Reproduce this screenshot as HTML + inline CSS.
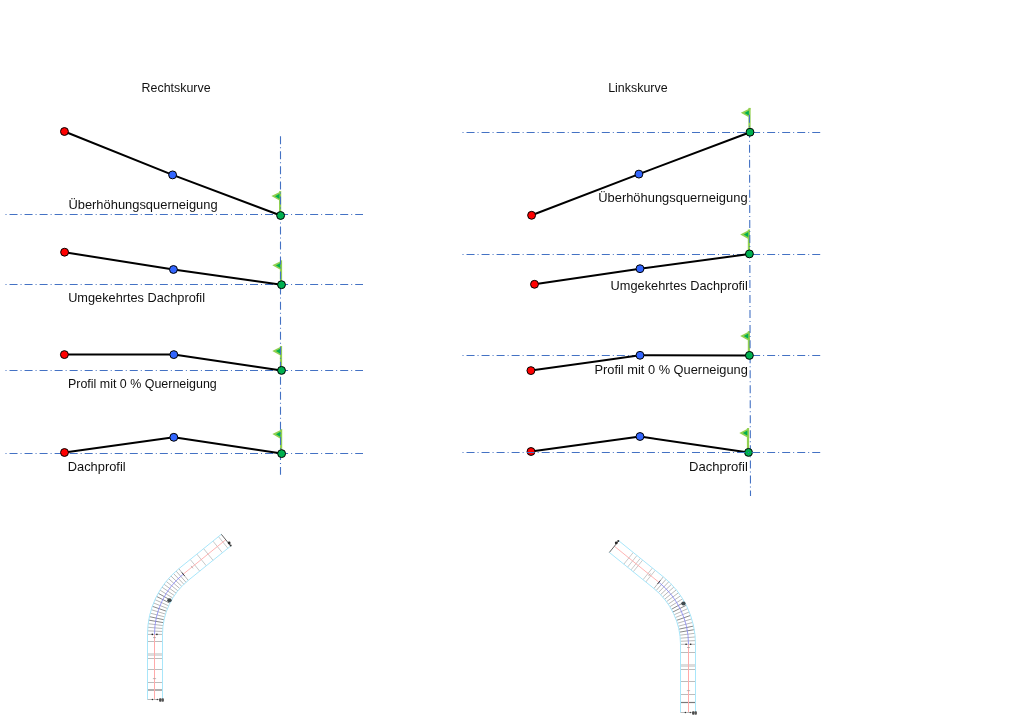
<!DOCTYPE html>
<html><head><meta charset="utf-8"><style>
html,body{margin:0;padding:0;background:#fff;}
svg{display:block;}
text{will-change:transform;font-family:"Liberation Sans",sans-serif;font-size:12.8px;fill:#111;}
.dd{stroke:#4472c4;stroke-width:1.1;stroke-dasharray:8 3 1 3.03;fill:none;}
</style></head><body>
<svg width="1024" height="720" viewBox="0 0 1024 720">
<text x="141.6" y="91.9" textLength="69.00" lengthAdjust="spacingAndGlyphs">Rechtskurve</text>
<text x="68.4" y="208.6" textLength="149.20" lengthAdjust="spacingAndGlyphs">Überhöhungsquerneigung</text>
<text x="68.15" y="302.2" textLength="136.85" lengthAdjust="spacingAndGlyphs">Umgekehrtes Dachprofil</text>
<text x="68.0" y="387.9" textLength="148.75" lengthAdjust="spacingAndGlyphs">Profil mit 0 % Querneigung</text>
<text x="67.8" y="470.9" textLength="57.80" lengthAdjust="spacingAndGlyphs">Dachprofil</text>
<rect x="279.00" y="191.20" width="2.2" height="20.50" fill="#92d050"/><path d="M281.20,191.20 L279.00,200.30 L271.40,196.00 Z" fill="#92d050"/><path d="M279.50,193.70 L279.50,198.90 L275.00,196.20 Z" fill="#00b050"/>
<rect x="279.90" y="260.40" width="2.2" height="20.50" fill="#92d050"/><path d="M282.10,260.40 L279.90,269.50 L272.30,265.20 Z" fill="#92d050"/><path d="M280.40,262.90 L280.40,268.10 L275.90,265.40 Z" fill="#00b050"/>
<rect x="279.90" y="346.10" width="2.2" height="20.50" fill="#92d050"/><path d="M282.10,346.10 L279.90,355.20 L272.30,350.90 Z" fill="#92d050"/><path d="M280.40,348.60 L280.40,353.80 L275.90,351.10 Z" fill="#00b050"/>
<rect x="280.00" y="429.30" width="2.2" height="20.50" fill="#92d050"/><path d="M282.20,429.30 L280.00,438.40 L272.40,434.10 Z" fill="#92d050"/><path d="M280.50,431.80 L280.50,437.00 L276.00,434.30 Z" fill="#00b050"/>
<line x1="280.5" y1="136.3" x2="280.5" y2="474.7" class="dd" stroke-dashoffset="0"/>
<line x1="5.5" y1="214.5" x2="363" y2="214.5" class="dd" stroke-dashoffset="11"/>
<polyline points="64.45,131.5 172.6,174.9 280.6,215.5" fill="none" stroke="#000" stroke-width="2" stroke-linejoin="round"/>
<circle cx="64.45" cy="131.5" r="3.95" fill="#ff0000" stroke="#000" stroke-width="1"/>
<circle cx="172.6" cy="174.9" r="3.95" fill="#3366ff" stroke="#000" stroke-width="1"/>
<circle cx="280.6" cy="215.5" r="3.95" fill="#00b050" stroke="#000" stroke-width="1"/>
<line x1="5.5" y1="284.5" x2="363" y2="284.5" class="dd" stroke-dashoffset="11"/>
<polyline points="64.6,252.2 173.45,269.5 281.5,284.7" fill="none" stroke="#000" stroke-width="2" stroke-linejoin="round"/>
<circle cx="64.6" cy="252.2" r="3.95" fill="#ff0000" stroke="#000" stroke-width="1"/>
<circle cx="173.45" cy="269.5" r="3.95" fill="#3366ff" stroke="#000" stroke-width="1"/>
<circle cx="281.5" cy="284.7" r="3.95" fill="#00b050" stroke="#000" stroke-width="1"/>
<line x1="5.5" y1="370.5" x2="363" y2="370.5" class="dd" stroke-dashoffset="11"/>
<polyline points="64.4,354.6 173.8,354.6 281.5,370.4" fill="none" stroke="#000" stroke-width="2" stroke-linejoin="round"/>
<circle cx="64.4" cy="354.6" r="3.95" fill="#ff0000" stroke="#000" stroke-width="1"/>
<circle cx="173.8" cy="354.6" r="3.95" fill="#3366ff" stroke="#000" stroke-width="1"/>
<circle cx="281.5" cy="370.4" r="3.95" fill="#00b050" stroke="#000" stroke-width="1"/>
<line x1="5.5" y1="453.5" x2="363" y2="453.5" class="dd" stroke-dashoffset="11"/>
<polyline points="64.5,452.5 173.8,437.3 281.6,453.6" fill="none" stroke="#000" stroke-width="2" stroke-linejoin="round"/>
<circle cx="64.5" cy="452.5" r="3.95" fill="#ff0000" stroke="#000" stroke-width="1"/>
<circle cx="173.8" cy="437.3" r="3.95" fill="#3366ff" stroke="#000" stroke-width="1"/>
<circle cx="281.6" cy="453.6" r="3.95" fill="#00b050" stroke="#000" stroke-width="1"/>
<text x="608.2" y="91.9" textLength="59.40" lengthAdjust="spacingAndGlyphs">Linkskurve</text>
<text x="598.2" y="201.9" textLength="149.40" lengthAdjust="spacingAndGlyphs">Überhöhungsquerneigung</text>
<text x="610.6" y="290" textLength="137.20" lengthAdjust="spacingAndGlyphs">Umgekehrtes Dachprofil</text>
<text x="594.5" y="374.1" textLength="153.30" lengthAdjust="spacingAndGlyphs">Profil mit 0 % Querneigung</text>
<text x="689.0" y="470.7" textLength="58.80" lengthAdjust="spacingAndGlyphs">Dachprofil</text>
<rect x="748.40" y="107.90" width="2.2" height="20.50" fill="#92d050"/><path d="M750.60,107.90 L748.40,117.00 L740.80,112.70 Z" fill="#92d050"/><path d="M748.90,110.40 L748.90,115.60 L744.40,112.90 Z" fill="#00b050"/>
<rect x="747.80" y="229.60" width="2.2" height="20.50" fill="#92d050"/><path d="M750.00,229.60 L747.80,238.70 L740.20,234.40 Z" fill="#92d050"/><path d="M748.30,232.10 L748.30,237.30 L743.80,234.60 Z" fill="#00b050"/>
<rect x="747.80" y="331.10" width="2.2" height="20.50" fill="#92d050"/><path d="M750.00,331.10 L747.80,340.20 L740.20,335.90 Z" fill="#92d050"/><path d="M748.30,333.60 L748.30,338.80 L743.80,336.10 Z" fill="#00b050"/>
<rect x="746.90" y="428.10" width="2.2" height="20.50" fill="#92d050"/><path d="M749.10,428.10 L746.90,437.20 L739.30,432.90 Z" fill="#92d050"/><path d="M747.40,430.60 L747.40,435.80 L742.90,433.10 Z" fill="#00b050"/>
<line x1="749.45" y1="114.7" x2="750.5" y2="496.0" class="dd" stroke-dashoffset="0"/>
<line x1="462.5" y1="132.5" x2="820.2" y2="132.5" class="dd" stroke-dashoffset="11"/>
<polyline points="531.6,215.3 638.9,174.1 750,132.2" fill="none" stroke="#000" stroke-width="2" stroke-linejoin="round"/>
<circle cx="531.6" cy="215.3" r="3.95" fill="#ff0000" stroke="#000" stroke-width="1"/>
<circle cx="638.9" cy="174.1" r="3.95" fill="#3366ff" stroke="#000" stroke-width="1"/>
<circle cx="750" cy="132.2" r="3.95" fill="#00b050" stroke="#000" stroke-width="1"/>
<line x1="462.5" y1="254.5" x2="820.2" y2="254.5" class="dd" stroke-dashoffset="11"/>
<polyline points="534.5,284.3 640,268.7 749.4,253.9" fill="none" stroke="#000" stroke-width="2" stroke-linejoin="round"/>
<circle cx="534.5" cy="284.3" r="3.95" fill="#ff0000" stroke="#000" stroke-width="1"/>
<circle cx="640" cy="268.7" r="3.95" fill="#3366ff" stroke="#000" stroke-width="1"/>
<circle cx="749.4" cy="253.9" r="3.95" fill="#00b050" stroke="#000" stroke-width="1"/>
<line x1="462.5" y1="355.5" x2="820.2" y2="355.5" class="dd" stroke-dashoffset="11"/>
<polyline points="530.9,370.6 640,355.3 749.4,355.4" fill="none" stroke="#000" stroke-width="2" stroke-linejoin="round"/>
<circle cx="530.9" cy="370.6" r="3.95" fill="#ff0000" stroke="#000" stroke-width="1"/>
<circle cx="640" cy="355.3" r="3.95" fill="#3366ff" stroke="#000" stroke-width="1"/>
<circle cx="749.4" cy="355.4" r="3.95" fill="#00b050" stroke="#000" stroke-width="1"/>
<polyline points="531,451.5 640,436.5 748.5,452.4" fill="none" stroke="#000" stroke-width="2" stroke-linejoin="round"/>
<circle cx="531" cy="451.5" r="3.95" fill="#ff0000" stroke="#000" stroke-width="1"/>
<circle cx="640" cy="436.5" r="3.95" fill="#3366ff" stroke="#000" stroke-width="1"/>
<circle cx="748.5" cy="452.4" r="3.95" fill="#00b050" stroke="#000" stroke-width="1"/>
<line x1="462.5" y1="452.5" x2="820.2" y2="452.5" class="dd" stroke-dashoffset="11"/>
<g><rect x="147.5" y="653" width="15.0" height="3" fill="#dcdcdc"/>
<line x1="147.5" y1="690" x2="162.5" y2="690" stroke="#7a7a7a" stroke-width="1.2"/>
<line x1="147.5" y1="682.5" x2="162.5" y2="682.5" stroke="#b4b4b4" stroke-width="0.9"/>
<line x1="147.5" y1="669.5" x2="162.5" y2="669.5" stroke="#b4b4b4" stroke-width="0.9"/>
<line x1="147.5" y1="658.5" x2="162.5" y2="658.5" stroke="#b4b4b4" stroke-width="0.9"/>
<line x1="147.5" y1="641.5" x2="162.5" y2="641.5" stroke="#b4b4b4" stroke-width="0.9"/>
<line x1="147.50" y1="634.40" x2="162.50" y2="634.40" stroke="#b0b0b0" stroke-width="0.9"/>
<line x1="147.58" y1="630.82" x2="162.56" y2="631.46" stroke="#b0b0b0" stroke-width="0.9"/>
<line x1="147.80" y1="627.25" x2="162.75" y2="628.52" stroke="#b0b0b0" stroke-width="0.9"/>
<line x1="148.18" y1="623.68" x2="163.06" y2="625.59" stroke="#b0b0b0" stroke-width="0.9"/>
<line x1="148.71" y1="620.14" x2="163.50" y2="622.67" stroke="#7a7a7a" stroke-width="0.9"/>
<line x1="149.39" y1="616.63" x2="164.05" y2="619.78" stroke="#7a7a7a" stroke-width="0.9"/>
<line x1="150.22" y1="613.14" x2="164.74" y2="616.91" stroke="#b0b0b0" stroke-width="0.9"/>
<line x1="151.19" y1="609.69" x2="165.54" y2="614.08" stroke="#b0b0b0" stroke-width="0.9"/>
<line x1="152.31" y1="606.29" x2="166.46" y2="611.28" stroke="#7a7a7a" stroke-width="0.9"/>
<line x1="153.57" y1="602.94" x2="167.50" y2="608.53" stroke="#b0b0b0" stroke-width="0.9"/>
<line x1="154.98" y1="599.65" x2="168.65" y2="605.82" stroke="#b0b0b0" stroke-width="0.9"/>
<line x1="156.52" y1="596.41" x2="169.92" y2="603.16" stroke="#7a7a7a" stroke-width="0.9"/>
<line x1="158.20" y1="593.25" x2="171.30" y2="600.55" stroke="#7a7a7a" stroke-width="0.9"/>
<line x1="160.01" y1="590.16" x2="172.79" y2="598.01" stroke="#b0b0b0" stroke-width="0.9"/>
<line x1="161.95" y1="587.15" x2="174.38" y2="595.54" stroke="#b0b0b0" stroke-width="0.9"/>
<line x1="164.01" y1="584.22" x2="176.08" y2="593.13" stroke="#b0b0b0" stroke-width="0.9"/>
<line x1="166.20" y1="581.39" x2="177.88" y2="590.80" stroke="#b0b0b0" stroke-width="0.9"/>
<line x1="168.50" y1="578.65" x2="179.78" y2="588.54" stroke="#b0b0b0" stroke-width="0.9"/>
<line x1="170.92" y1="576.01" x2="181.77" y2="586.37" stroke="#b0b0b0" stroke-width="0.9"/>
<line x1="173.45" y1="573.47" x2="183.85" y2="584.29" stroke="#b0b0b0" stroke-width="0.9"/>
<line x1="176.09" y1="571.04" x2="186.01" y2="582.29" stroke="#b0b0b0" stroke-width="0.9"/>
<line x1="178.82" y1="568.73" x2="188.26" y2="580.39" stroke="#b0b0b0" stroke-width="0.9"/>
<line x1="190.25" y1="559.48" x2="199.69" y2="571.14" stroke="#b0b0b0" stroke-width="0.7"/>
<line x1="196.85" y1="554.13" x2="206.29" y2="565.79" stroke="#b0b0b0" stroke-width="0.7"/>
<line x1="203.61" y1="548.66" x2="213.05" y2="560.31" stroke="#b0b0b0" stroke-width="0.7"/>
<line x1="212.94" y1="541.10" x2="222.38" y2="552.76" stroke="#b0b0b0" stroke-width="0.7"/>
<line x1="218.46" y1="536.64" x2="227.90" y2="548.29" stroke="#b0b0b0" stroke-width="0.7"/>
<line x1="154.5" y1="699.5" x2="154.5" y2="634.4" stroke="#ffaaaa" stroke-width="1"/>
<path d="M154.5,634.4 A77.5,77.5 0 0 1 183.23,574.17" fill="none" stroke="#8585f5" stroke-width="0.8"/>
<line x1="183.23" y1="574.17" x2="225.74" y2="539.75" stroke="#ffaaaa" stroke-width="0.9"/>
<path d="M147.50,699.50 L147.50,634.40 A84.50,84.50 0 0 1 178.82,568.73 L221.33,534.31" fill="none" stroke="#a8e6fa" stroke-width="1"/>
<path d="M162.50,699.50 L162.50,634.40 A69.50,69.50 0 0 1 188.26,580.39 L230.77,545.96" fill="none" stroke="#a8e6fa" stroke-width="1"/>
<line x1="147.5" y1="699.5" x2="162.5" y2="699.5" stroke="#b0b0b0" stroke-width="0.9"/>
<line x1="221.33" y1="534.31" x2="230.77" y2="545.96" stroke="#505050" stroke-width="0.9"/>
<circle cx="152.30" cy="634.40" r="0.8" fill="#222"/>
<circle cx="156.90" cy="634.40" r="0.8" fill="#222"/>
<line x1="153.0" y1="637.6" x2="156.0" y2="637.6" stroke="#999" stroke-width="0.7"/>
<line x1="181.84" y1="572.46" x2="184.61" y2="575.88" stroke="#333" stroke-width="0.9"/>
<ellipse cx="169.46" cy="600.36" rx="2.2" ry="2" fill="#404a4e"/>
<circle cx="229.16" cy="543.02" r="1.4" fill="#2a2a2a"/>
<circle cx="230.69" cy="545.39" r="1.0" fill="#333"/>
<line x1="152.90" y1="678.6" x2="156.10" y2="678.6" stroke="#a0a0a0" stroke-width="0.7"/>
<line x1="191.00" y1="565.82" x2="193.02" y2="568.30" stroke="#a0a0a0" stroke-width="0.7"/>
<circle cx="152.40" cy="699.50" r="0.75" fill="#333"/>
<circle cx="157.30" cy="699.50" r="0.75" fill="#444"/>
<rect x="159.10" y="698.20" width="2.4" height="3.6" rx="0.8" fill="#4a4a4a"/>
<rect x="161.60" y="698.20" width="2.3" height="3.6" rx="0.8" fill="#555"/>
<rect x="680.5" y="664" width="15.0" height="3" fill="#dcdcdc"/>
<line x1="680.5" y1="702.5" x2="695.5" y2="702.5" stroke="#7a7a7a" stroke-width="1.2"/>
<line x1="680.5" y1="694.5" x2="695.5" y2="694.5" stroke="#b4b4b4" stroke-width="0.9"/>
<line x1="680.5" y1="681.5" x2="695.5" y2="681.5" stroke="#b4b4b4" stroke-width="0.9"/>
<line x1="680.5" y1="669.5" x2="695.5" y2="669.5" stroke="#b4b4b4" stroke-width="0.9"/>
<line x1="680.5" y1="652.5" x2="695.5" y2="652.5" stroke="#b4b4b4" stroke-width="0.9"/>
<line x1="680.50" y1="644.30" x2="695.50" y2="644.30" stroke="#b0b0b0" stroke-width="0.9"/>
<line x1="680.44" y1="641.26" x2="695.42" y2="640.62" stroke="#b0b0b0" stroke-width="0.9"/>
<line x1="680.24" y1="638.22" x2="695.19" y2="636.95" stroke="#b0b0b0" stroke-width="0.9"/>
<line x1="679.92" y1="635.19" x2="694.80" y2="633.29" stroke="#b0b0b0" stroke-width="0.9"/>
<line x1="679.47" y1="632.18" x2="694.26" y2="629.65" stroke="#7a7a7a" stroke-width="0.9"/>
<line x1="678.89" y1="629.20" x2="693.56" y2="626.04" stroke="#7a7a7a" stroke-width="0.9"/>
<line x1="678.19" y1="626.24" x2="692.71" y2="622.46" stroke="#b0b0b0" stroke-width="0.9"/>
<line x1="677.36" y1="623.31" x2="691.71" y2="618.92" stroke="#b0b0b0" stroke-width="0.9"/>
<line x1="676.41" y1="620.42" x2="690.56" y2="615.43" stroke="#7a7a7a" stroke-width="0.9"/>
<line x1="675.34" y1="617.57" x2="689.26" y2="611.98" stroke="#b0b0b0" stroke-width="0.9"/>
<line x1="674.15" y1="614.77" x2="687.82" y2="608.60" stroke="#b0b0b0" stroke-width="0.9"/>
<line x1="672.84" y1="612.02" x2="686.23" y2="605.28" stroke="#7a7a7a" stroke-width="0.9"/>
<line x1="671.41" y1="609.33" x2="684.51" y2="602.03" stroke="#7a7a7a" stroke-width="0.9"/>
<line x1="669.87" y1="606.71" x2="682.65" y2="598.85" stroke="#b0b0b0" stroke-width="0.9"/>
<line x1="668.22" y1="604.15" x2="680.66" y2="595.76" stroke="#b0b0b0" stroke-width="0.9"/>
<line x1="666.47" y1="601.66" x2="678.54" y2="592.76" stroke="#b0b0b0" stroke-width="0.9"/>
<line x1="664.61" y1="599.25" x2="676.29" y2="589.84" stroke="#b0b0b0" stroke-width="0.9"/>
<line x1="662.65" y1="596.93" x2="673.92" y2="587.03" stroke="#b0b0b0" stroke-width="0.9"/>
<line x1="660.60" y1="594.68" x2="671.44" y2="584.32" stroke="#b0b0b0" stroke-width="0.9"/>
<line x1="658.45" y1="592.53" x2="668.84" y2="581.71" stroke="#b0b0b0" stroke-width="0.9"/>
<line x1="656.21" y1="590.47" x2="666.13" y2="579.22" stroke="#b0b0b0" stroke-width="0.9"/>
<line x1="653.89" y1="588.50" x2="663.33" y2="576.84" stroke="#b0b0b0" stroke-width="0.9"/>
<line x1="645.80" y1="581.96" x2="655.24" y2="570.30" stroke="#b0b0b0" stroke-width="0.7"/>
<line x1="643.01" y1="579.69" x2="652.44" y2="568.03" stroke="#b0b0b0" stroke-width="0.7"/>
<line x1="633.21" y1="571.76" x2="642.65" y2="560.10" stroke="#b0b0b0" stroke-width="0.7"/>
<line x1="630.96" y1="569.94" x2="640.40" y2="558.28" stroke="#b0b0b0" stroke-width="0.7"/>
<line x1="627.54" y1="567.17" x2="636.98" y2="555.51" stroke="#b0b0b0" stroke-width="0.7"/>
<line x1="623.81" y1="564.15" x2="633.25" y2="552.49" stroke="#b0b0b0" stroke-width="0.7"/>
<line x1="688.5" y1="712.5" x2="688.5" y2="644.3" stroke="#ffaaaa" stroke-width="1"/>
<path d="M688.5,644.3 A79.8,79.8 0 0 0 658.92,582.28" fill="none" stroke="#8585f5" stroke-width="0.8"/>
<line x1="658.92" y1="582.28" x2="614.39" y2="546.22" stroke="#ffaaaa" stroke-width="0.9"/>
<path d="M680.50,712.50 L680.50,644.30 A71.80,71.80 0 0 0 653.89,588.50 L609.35,552.44" fill="none" stroke="#a8e6fa" stroke-width="1"/>
<path d="M695.50,712.50 L695.50,644.30 A86.80,86.80 0 0 0 663.33,576.84 L618.79,540.78" fill="none" stroke="#a8e6fa" stroke-width="1"/>
<line x1="680.5" y1="712.5" x2="695.5" y2="712.5" stroke="#b0b0b0" stroke-width="0.9"/>
<line x1="609.35" y1="552.44" x2="618.79" y2="540.78" stroke="#505050" stroke-width="0.9"/>
<circle cx="690.70" cy="644.30" r="0.8" fill="#222"/>
<circle cx="686.10" cy="644.30" r="0.8" fill="#222"/>
<line x1="687.0" y1="647.5" x2="690.0" y2="647.5" stroke="#999" stroke-width="0.7"/>
<line x1="657.54" y1="583.99" x2="660.30" y2="580.57" stroke="#333" stroke-width="0.9"/>
<ellipse cx="683.44" cy="603.62" rx="2.2" ry="2" fill="#404a4e"/>
<circle cx="616.25" cy="542.97" r="1.4" fill="#2a2a2a"/>
<circle cx="618.25" cy="540.98" r="1.0" fill="#333"/>
<line x1="686.90" y1="690.6" x2="690.10" y2="690.6" stroke="#a0a0a0" stroke-width="0.7"/>
<line x1="648.59" y1="575.98" x2="650.60" y2="573.49" stroke="#a0a0a0" stroke-width="0.7"/>
<circle cx="685.40" cy="712.50" r="0.75" fill="#333"/>
<circle cx="690.30" cy="712.50" r="0.75" fill="#444"/>
<rect x="692.10" y="711.20" width="2.4" height="3.6" rx="0.8" fill="#4a4a4a"/>
<rect x="694.60" y="711.20" width="2.3" height="3.6" rx="0.8" fill="#555"/></g>
</svg>
</body></html>
